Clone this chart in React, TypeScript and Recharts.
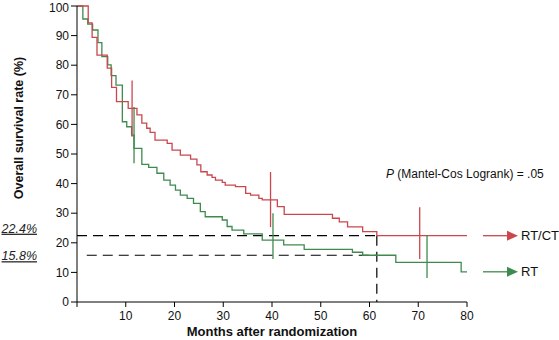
import React from 'react';
import { LineChart, Line, XAxis, YAxis, ReferenceLine } from 'recharts';

// RT/CT arm (red) - step points: month of drop, survival after drop
const RTCT_MONTHS = [0, 2.3, 3.1, 4.1, 6.2, 7.1, 8.1, 10.5, 12.3, 13.3, 14.3, 15.0, 16.0, 18.5, 19.5, 21.2, 23.3, 24.6, 25.4, 26.7, 27.7, 28.4, 29.8, 30.4, 32.5, 34.6, 35.6, 37.3, 38.0, 41.1, 42.5, 52.4, 53.8, 55.5, 58.6, 61.5, 80];
const RTCT_SURV = [100, 94.3, 89.4, 83.4, 79, 72.5, 67.7, 65.4, 63.2, 60.4, 58.7, 57.3, 54.7, 53.6, 51.3, 49.6, 48.3, 46.3, 44, 42.9, 42.1, 41.2, 40.4, 39.5, 39, 36.7, 36.1, 35, 34.5, 32.2, 29.6, 28.3, 27.1, 25.4, 23.8, 22.4, 22.4];

// RT arm (green)
const RT_MONTHS = [0, 1.2, 2.2, 3.2, 4.3, 5.1, 6.3, 7.0, 8.0, 9.3, 10.2, 11.2, 11.7, 13.3, 14.7, 16.4, 17.8, 19.1, 20.2, 21.2, 22.6, 23.9, 25.3, 26.3, 29.8, 30.8, 31.8, 34.2, 38.0, 42.4, 46.6, 56.5, 58.6, 65.4, 78.8, 80];
const RT_SURV = [100, 95.6, 93.9, 91.9, 87.6, 82.9, 80.1, 76.5, 73.3, 60.9, 59.2, 56.4, 51.9, 46.5, 45.5, 43.5, 41.2, 39.5, 37.8, 36.1, 35, 33.3, 30.5, 28.8, 27.7, 25.5, 24.3, 23.0, 20.9, 19.3, 17.8, 16.8, 15.8, 13.4, 10.2, 10.2];

// censoring ticks (month, low, high)
const RTCT_CENSOR_MONTHS = [11.3, 39.7, 70.3];
const RTCT_CENSOR_LO = [55.8, 25.3, 14.5];
const RTCT_CENSOR_HI = [74.8, 43.9, 32];
const RT_CENSOR_MONTHS = [11.7, 40.2, 71.8];
const RT_CENSOR_LO = [46.9, 14.5, 8.1];
const RT_CENSOR_HI = [65.9, 30, 22.6];

const FIVE_YEAR_MONTH = 61.5;
const RTCT_5YR = 22.4;
const RT_5YR = 15.8;

const X_TICKS = [0, 10, 20, 30, 40, 50, 60, 70, 80];
const Y_TICKS = [0, 10, 20, 30, 40, 50, 60, 70, 80, 90, 100];

const RED = '#c9474d';
const GREEN = '#3f8a4f';
const FONT = '"Liberation Sans", Arial, sans-serif';

const rtctData = RTCT_MONTHS.map((m, i) => ({ m, v: RTCT_SURV[i] }));
const rtData = RT_MONTHS.map((m, i) => ({ m, v: RT_SURV[i] }));

function LeftPct(props: any) {
  const { viewBox, text, dy } = props;
  return (
    <text x={37} y={viewBox.y + dy} textAnchor="end" fontSize={12.5} fontStyle="italic"
      fontFamily={FONT} fill="#222" style={{ textDecoration: 'underline' }}>
      {text}
    </text>
  );
}

function EndArrow(props: any) {
  const { viewBox, color, text } = props;
  const x0 = viewBox.x + viewBox.width + 16;
  const y = viewBox.y;
  return (
    <g>
      <line x1={x0} y1={y} x2={x0 + 25} y2={y} stroke={color} strokeWidth={1.3} />
      <polygon points={`${x0 + 24},${y - 5} ${x0 + 35},${y} ${x0 + 24},${y + 5}`} fill={color} />
      <text x={x0 + 38} y={y + 4.5} fontSize={13} fontFamily={FONT} fill="#111">{text}</text>
    </g>
  );
}

function YTitle() {
  return (
    <text x={19} y={128} transform="rotate(-90, 19, 128)" textAnchor="middle" dominantBaseline="central"
      fontSize={12.5} fontWeight="bold" fontFamily={FONT} fill="#111">
      Overall survival rate (%)
    </text>
  );
}

function XTitle(props: any) {
  const { viewBox } = props;
  return (
    <text x={viewBox.x + viewBox.width / 2} y={336} textAnchor="middle"
      fontSize={13} fontWeight="bold" fontFamily={FONT} fill="#111">
      Months after randomization
    </text>
  );
}

export default function App() {
  return (
    <div style={{ position: 'absolute', left: 0, top: 0, width: 559, height: 340, background: '#fff' }}>
      <LineChart width={559} height={340} margin={{ top: 6, right: 92, bottom: 0, left: 0 }}>
        <XAxis
          type="number"
          dataKey="m"
          domain={[0, 80]}
          ticks={X_TICKS}
          tickFormatter={(t) => (t === 0 ? '' : String(t))}
          height={38}
          tickSize={5}
          tickMargin={4}
          stroke="#000"
          tick={{ fill: '#111', fontSize: 12, fontFamily: FONT }}
          label={<XTitle />}
        />
        <YAxis
          type="number"
          dataKey="v"
          domain={[0, 100]}
          ticks={Y_TICKS}
          width={77}
          tickSize={6}
          tickMargin={2}
          stroke="#000"
          tick={{ fill: '#111', fontSize: 12, fontFamily: FONT }}
          label={<YTitle />}
        />

        <ReferenceLine segment={[{ x: 0, y: RTCT_5YR }, { x: FIVE_YEAR_MONTH, y: RTCT_5YR }]}
          stroke="#000" strokeWidth={1.2} strokeDasharray="10 6" ifOverflow="visible"
          label={<LeftPct text="22.4%" dy={-3} />} />
        <ReferenceLine segment={[{ x: 2, y: RT_5YR }, { x: FIVE_YEAR_MONTH, y: RT_5YR }]}
          stroke="#000" strokeWidth={1.2} strokeDasharray="10 6" ifOverflow="visible"
          label={<LeftPct text="15.8%" dy={5} />} />
        <ReferenceLine segment={[{ x: FIVE_YEAR_MONTH, y: RTCT_5YR }, { x: FIVE_YEAR_MONTH, y: 0 }]}
          stroke="#000" strokeWidth={1.2} strokeDasharray="10 6" ifOverflow="visible" />

        <Line data={rtData} dataKey="v" type="stepAfter" stroke={GREEN} strokeWidth={1.3}
          dot={false} isAnimationActive={false} />
        <Line data={rtctData} dataKey="v" type="stepAfter" stroke={RED} strokeWidth={1.3}
          dot={false} isAnimationActive={false} />

        {RTCT_CENSOR_MONTHS.map((m, i) => (
          <ReferenceLine key={`rc${i}`} segment={[{ x: m, y: RTCT_CENSOR_LO[i] }, { x: m, y: RTCT_CENSOR_HI[i] }]}
            stroke={RED} strokeWidth={1.3} ifOverflow="visible" />
        ))}
        {RT_CENSOR_MONTHS.map((m, i) => (
          <ReferenceLine key={`gc${i}`} segment={[{ x: m, y: RT_CENSOR_LO[i] }, { x: m, y: RT_CENSOR_HI[i] }]}
            stroke={GREEN} strokeWidth={1.3} ifOverflow="visible" />
        ))}

        <ReferenceLine y={RTCT_SURV[RTCT_SURV.length - 1]} stroke="none"
          label={<EndArrow color={RED} text="RT/CT" />} />
        <ReferenceLine y={RT_SURV[RT_SURV.length - 1]} stroke="none"
          label={<EndArrow color={GREEN} text="RT" />} />
      </LineChart>
      <div style={{ position: 'absolute', left: 386, top: 167, fontFamily: FONT, fontSize: 12, lineHeight: '14px', color: '#111', whiteSpace: 'nowrap' }}>
        <i>P</i> (Mantel-Cos Logrank) = .05
      </div>
    </div>
  );
}
